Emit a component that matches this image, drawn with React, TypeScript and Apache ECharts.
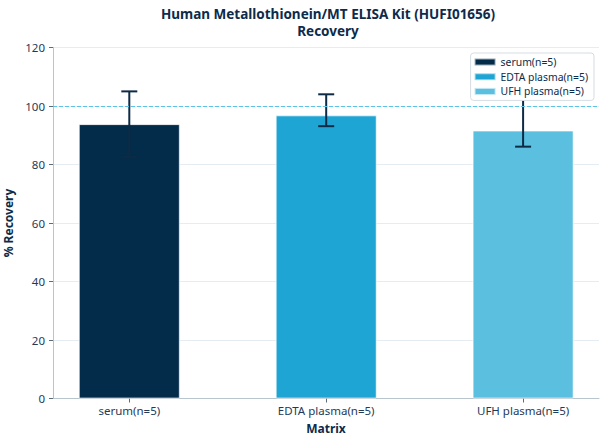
import React, { useEffect, useRef } from 'react'
import * as echarts from 'echarts'

const categories = ['serum(n=5)', 'EDTA plasma(n=5)', 'UFH plasma(n=5)']
const recovery = [93.8, 96.8, 91.6]
const errLow = [82.6, 93.1, 86.1]
const errHigh = [105.0, 104.0, 103.0]
const colors = ['#032b4a', '#1fa5d3', '#5bbfe0']
const yTicks = { min: 0, max: 120, interval: 20 }
const reference = 100

const textColor = '#0d2b4a'
const labelColor = '#1f3b57'
const font = 'Noto Sans'

const App: React.FC = () => {
  const chartRef = useRef<HTMLDivElement>(null)

  useEffect(() => {
    document.body.style.margin = '0'
    if (!chartRef.current) return
    const chart = echarts.init(chartRef.current, undefined, { renderer: 'svg' })

    // one bar series per matrix so the legend gets one entry each
    const barSeries = categories.map((name, i) => ({
      name,
      type: 'bar',
      data: [[i, recovery[i]]],
      barWidth: 101,
      barGap: '-100%',
      itemStyle: { color: colors[i], borderColor: 'rgba(255,255,255,0.6)', borderWidth: 1 },
      z: 2,
      ...(i === 0
        ? {
            markLine: {
              silent: true,
              symbol: 'none',
              label: { show: false },
              lineStyle: { color: '#5bc3e6', type: [4, 2], width: 1 },
              data: [{ yAxis: reference }],
            },
          }
        : {}),
    }))

    const errorSeries = {
      type: 'custom',
      name: 'error',
      z: 3,
      data: categories.map((_, i) => [i, errLow[i], errHigh[i]]),
      encode: { x: 0, y: [1, 2] },
      renderItem: (params: any, api: any) => {
        const x = api.value(0)
        const lo = api.coord([x, api.value(1)])
        const hi = api.coord([x, api.value(2)])
        const half = 8
        const style = { stroke: '#0d2b45', lineWidth: 2 }
        return {
          type: 'group',
          children: [
            { type: 'line', shape: { x1: lo[0], y1: lo[1], x2: hi[0], y2: hi[1] }, style },
            { type: 'line', shape: { x1: hi[0] - half, y1: hi[1], x2: hi[0] + half, y2: hi[1] }, style },
            { type: 'line', shape: { x1: lo[0] - half, y1: lo[1], x2: lo[0] + half, y2: lo[1] }, style },
          ],
        }
      },
    }

    chart.setOption({
      animation: false,
      textStyle: { fontFamily: font },
      title: {
        text: 'Human Metallothionein/MT ELISA Kit (HUFI01656)',
        subtext: 'Recovery',
        left: 328,
        textAlign: 'center',
        top: 5,
        padding: 0,
        itemGap: 0,
        textStyle: { fontSize: 13.5, fontWeight: 'bold', color: textColor, lineHeight: 17, fontFamily: font },
        subtextStyle: { fontSize: 13.5, fontWeight: 'bold', color: textColor, lineHeight: 17, fontFamily: font },
      },
      legend: {
        data: categories,
        orient: 'vertical',
        right: 14,
        top: 53,
        padding: [4, 6, 4, 3],
        itemWidth: 21,
        itemHeight: 7,
        itemGap: 4.7,
        itemTextGap: 8,
        icon: 'rect',
        backgroundColor: '#fff',
        borderColor: '#d5dde3',
        borderWidth: 1,
        borderRadius: 3,
        textStyle: { fontSize: 10.4, color: textColor, lineHeight: 10, fontFamily: font },
      },
      grid: { left: 53, right: 9, top: 47.5, bottom: 45.5, outerBoundsMode: 'none', containLabel: false },
      xAxis: {
        type: 'value',
        min: -0.3875,
        max: 2.3855,
        name: 'Matrix',
        nameLocation: 'middle',
        nameGap: 24,
        nameTextStyle: { fontSize: 12, fontWeight: 'bold', color: textColor, fontFamily: font },
        axisLine: { show: true, onZero: false, lineStyle: { color: '#b8c4ce', width: 1 } },
        axisTick: { show: true, customValues: [0, 1, 2], length: 4, inside: false, lineStyle: { color: '#5a6b7a' } },
        axisLabel: {
          customValues: [0, 1, 2],
          formatter: (v: number) => categories[Math.round(v)] ?? '',
          fontSize: 11.5,
          color: labelColor,
          margin: 6,
          fontFamily: font,
        },
        splitLine: { show: false },
      },
      yAxis: {
        type: 'value',
        min: yTicks.min,
        max: yTicks.max,
        interval: yTicks.interval,
        name: '% Recovery',
        nameLocation: 'middle',
        nameGap: 34,
        nameTextStyle: { fontSize: 12, fontWeight: 'bold', color: textColor, fontFamily: font },
        axisLine: { show: true, onZero: false, lineStyle: { color: '#b8c4ce', width: 1 } },
        axisTick: { show: true, length: 4, inside: false, lineStyle: { color: '#5a6b7a' } },
        axisLabel: { fontSize: 11.5, color: labelColor, margin: 8, fontFamily: font },
        splitLine: { show: true, lineStyle: { color: '#e6edf2', width: 1 } },
      },
      series: [...barSeries, errorSeries],
    })

    return () => chart.dispose()
  }, [])

  return <div ref={chartRef} style={{ width: 608, height: 444 }} />
}

export default App
